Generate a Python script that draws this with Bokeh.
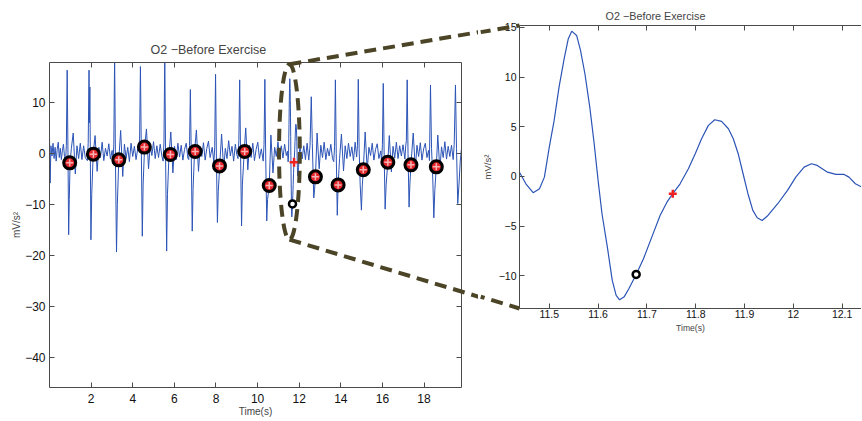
import math
from bokeh.plotting import figure
from bokeh.layouts import row
from bokeh.models import LinearAxis, FixedTicker, CustomJSTickFormatter, Range1d
from bokeh.embed import file_html
from bokeh.resources import INLINE

# ---------------- data ----------------
title_text = "O2 \u2212Before Exercise"
x_label = "Time(s)"
y_label = "mV/s\u00b2"

left_xticks = [2, 4, 6, 8, 10, 12, 14, 16, 18]
left_yticks = [-40, -30, -20, -10, 0, 10]
right_xticks = [11.5, 11.6, 11.7, 11.8, 11.9, 12, 12.1]
right_yticks = [-10, -5, 0, 5, 10, 15]

left_xlim = (0.0, 19.8)
left_ylim = (-45.8, 17.8)
right_xstart = 11.439
right_ylim = (-13.3, 15.2)

# zoomed beat
zoom_t = [11.439, 11.452, 11.467, 11.480, 11.490, 11.500, 11.510, 11.520, 11.531, 11.539,
          11.546, 11.556, 11.564, 11.573, 11.583, 11.592, 11.600, 11.608, 11.619, 11.629,
          11.637, 11.644, 11.653, 11.663, 11.678, 11.693, 11.710, 11.727, 11.741, 11.753,
          11.768, 11.785, 11.799, 11.812, 11.826, 11.839, 11.853, 11.867, 11.877, 11.887,
          11.897, 11.907, 11.917, 11.926, 11.936, 11.948, 11.968, 11.988, 12.005, 12.022,
          12.037, 12.049, 12.070, 12.087, 12.104, 12.114, 12.127, 12.141]
zoom_y = [0.43, -0.74, -1.64, -1.24, -0.07, 2.95, 5.64, 8.99, 12.0, 13.87,
          14.63, 14.2, 12.69, 10.34, 6.98, 3.29, -0.40, -3.76, -7.12, -10.47,
          -11.98, -12.42, -12.15, -11.31, -9.87, -8.29, -6.11, -3.93, -2.59, -1.74,
          -0.74, 0.77, 2.29, 3.80, 5.14, 5.71, 5.54, 4.80, 3.80, 2.29,
          0.27, -1.74, -3.42, -4.16, -4.43, -3.93, -2.75, -1.41, -0.07, 0.94,
          1.28, 1.11, 0.43, 0.20, 0.20, -0.07, -0.74, -1.08]

# full recording, before the zoomed beat
pre_t = [0.00, 0.03, 0.07, 0.12, 0.17, 0.22, 0.27, 0.32, 0.37, 0.42, 0.47, 0.52, 0.57, 0.62, 0.67, 0.72,
         0.77, 0.81, 0.85, 0.89, 0.92, 0.95, 0.99, 1.05, 1.14, 1.24, 1.32, 1.40, 1.48, 1.56, 1.64, 1.72,
         1.82, 1.86, 1.90, 1.92, 1.94, 1.99, 2.03, 2.10, 2.19, 2.29, 2.37, 2.45, 2.53, 2.61, 2.69, 2.77, 2.85, 2.93, 3.01,
         3.05, 3.09, 3.13, 3.17, 3.22, 3.26, 3.33, 3.42, 3.52, 3.60, 3.68, 3.76, 3.84, 3.92, 4.00, 4.08, 4.16, 4.24,
         4.29, 4.33, 4.37, 4.41, 4.46, 4.50, 4.57, 4.66, 4.76, 4.84, 4.92, 5.00, 5.08, 5.16, 5.24, 5.32, 5.40,
         5.46, 5.50, 5.54, 5.58, 5.63, 5.67, 5.74, 5.83, 5.93, 6.01, 6.09, 6.17, 6.25, 6.33, 6.41, 6.49, 6.57, 6.65,
         6.69, 6.73, 6.77, 6.81, 6.86, 6.90, 6.97, 7.06, 7.16, 7.24, 7.32, 7.40, 7.48, 7.56, 7.64, 7.72, 7.82,
         7.90, 7.94, 7.98, 8.02, 8.07, 8.11, 8.18, 8.27, 8.37, 8.45, 8.53, 8.61, 8.69, 8.77, 8.85, 8.93, 9.00,
         9.06, 9.10, 9.14, 9.18, 9.23, 9.27, 9.36, 9.43, 9.53, 9.61, 9.69, 9.77, 9.85, 9.93, 10.01, 10.09, 10.18,
         10.27, 10.31, 10.35, 10.39, 10.44, 10.48, 10.56, 10.64, 10.74, 10.82, 10.90, 10.98, 11.06, 11.14, 11.22, 11.30, 11.38]
pre_y = [3.4, -5.8, 1.5, -0.5, 2.0, -1.0, 1.2, -1.5, 0.8, 2.2, -0.8, 1.0, -1.2, 0.6, 1.8, -0.6,
         -1.8, 1.6, 16.3, -1.0, -15.9, -9.0, -1.8, 1.0, 4.0, -4.0, 1.5, -1.0, 2.0, -1.2, 1.5, -0.8,
         -1.4, 2.0, 16.3, 6.0, 13.0, -16.9, -8.0, -0.1, 3.5, -3.5, 1.2, -0.8, 2.2, -1.4, 1.0, -0.5, 1.9, -1.1, 0.6,
         -2.0, 1.8, 19.0, -1.5, -19.3, -10.0, -1.2, 4.5, -4.5, 1.8, -1.0, 1.2, -1.6, 2.0, -0.6, 1.4, -1.2, 0.9,
         1.0, 3.0, 17.0, 1.5, -16.2, -6.0, 1.2, 4.8, -3.0, 1.6, -0.4, 2.3, -1.0, 1.5, -0.8, 1.8, -0.5,
         -1.5, 2.2, 19.0, -1.0, -19.1, -8.0, -0.5, 4.2, -3.8, 1.4, -1.2, 2.0, -0.7, 1.6, -1.3, 0.8, 2.0, -0.9,
         -1.2, 1.5, 12.5, 0.5, -15.2, -7.0, 0.4, 4.6, -3.5, 1.3, -0.6, 2.1, -1.3, 1.0, 2.4, -0.8, 1.2,
         -1.8, 1.2, 15.5, -0.5, -13.5, -7.5, -2.4, 3.8, -3.0, 1.0, -1.0, 2.5, -0.5, 1.4, -1.5, 1.8, -0.2,
         -1.0, 2.5, 14.4, 0.5, -14.2, -6.0, 0.4, 5.0, -3.2, 1.6, -0.8, 2.0, -1.4, 0.8, 2.2, -1.0, 0.9,
         -1.5, 1.8, 14.5, -0.5, -13.2, -9.0, -6.3, 3.6, -3.8, 1.2, -0.6, 2.3, -1.1, 1.5, -0.9, 1.8, -0.4]

# full recording, after the zoomed beat
post_t = [12.22, 12.30, 12.38, 12.46,
          12.52, 12.58, 12.63, 12.70, 12.74, 12.78, 12.86, 12.96, 13.04, 13.12, 13.20, 13.28, 13.36, 13.44, 13.52, 13.60,
          13.66, 13.70, 13.74, 13.78, 13.83, 13.87, 13.94, 14.03, 14.13, 14.21, 14.29, 14.37, 14.45, 14.53, 14.61, 14.69, 14.76,
          14.80, 14.84, 14.88, 14.93, 14.99, 15.03, 15.08, 15.17, 15.27, 15.35, 15.43, 15.51, 15.59, 15.67, 15.75, 15.83, 15.92,
          15.96, 16.00, 16.04, 16.08, 16.13, 16.18, 16.26, 16.33, 16.43, 16.51, 16.59, 16.67, 16.75, 16.83, 16.91, 16.99, 17.08,
          17.12, 17.15, 17.19, 17.23, 17.28, 17.32, 17.37, 17.48, 17.58, 17.66, 17.74, 17.82, 17.90, 17.98, 18.06, 18.14, 18.22,
          18.26, 18.31, 18.36, 18.42, 18.47, 18.52, 18.59, 18.66, 18.76, 18.84, 18.92, 19.00, 19.08, 19.16, 19.24, 19.32, 19.40,
          19.45, 19.51, 19.56, 19.62, 19.68, 19.74, 19.80]
post_y = [1.5, -1.2, 2.0, -1.3,
          1.5, 11.1, 2.0, -8.7, -7.0, -4.6, 4.0, -3.0, 1.6, -0.8, 2.2, -1.2, 1.0, -0.5, 1.8, -1.0,
          -1.6, 1.4, 14.4, 0.0, -12.1, -6.2, -1.0, 3.8, -3.4, 1.5, -1.0, 2.0, -0.6, 1.3, -1.4, 2.2, -0.7,
          1.5, 14.5, 1.0, -6.0, -11.1, -6.5, -3.2, 4.2, -3.2, 1.2, -0.4, 2.0, -1.3, 0.8, 1.9, -1.0, 0.5,
          -1.6, 1.8, 13.7, 0.5, -10.9, -6.0, -1.7, 3.5, -3.6, 1.4, -0.9, 2.2, -1.0, 1.5, -0.5, 1.7, -1.1,
          1.5, 2.5, 14.4, 0.0, -10.5, -6.0, -2.2, 4.0, -3.0, 1.6, -0.6, 2.1, -1.3, 0.9, 2.0, -0.8, 0.6,
          -1.4, 13.4, 1.0, -5.0, -12.6, -7.0, -2.6, 3.6, -3.2, 1.3, -0.8, 2.3, -1.1, 1.4, -0.6, 1.6, -1.2,
          1.8, 13.4, 1.0, -9.8, -6.0, -1.5, 1.0]

# detected points (circle + plus)
detect_t = [0.97, 2.11, 3.33, 4.56, 5.81, 7.00, 8.17, 9.38, 10.56, 12.78, 13.87, 15.08, 16.26, 17.37, 18.59]
detect_y = [-1.84, -0.14, -1.25, 1.24, -0.20, 0.39, -2.43, 0.39, -6.27, -4.58, -6.15, -3.20, -1.70, -2.23, -2.62]

# the zoomed beat's two marks
plus_t = [11.753]
plus_y = [-1.74]
circ_t = [11.678]
circ_y = [-9.87]

# zoom ellipse (data units of the left panel)
ell_x = [11.53]
ell_y = [0.3]
ell_w = [1.0]
ell_h = [34.3]

# ---------------- layout constants (page pixels) ----------------
H = 420
W1, W2 = 478, 383
L_left, L_top, L_w, L_h = 49, 62, 412, 325
R_left, R_top, R_h = 39, 25, 283
R_w = W2 - R_left
R_pxs = 491.0  # pixels per second of right panel
right_xlim = (right_xstart, right_xstart + R_w / R_pxs)

FONT = "Liberation Sans"
AX = "#4a4a4a"
BLUE = "#2c54b6"
DASH_C = "#4b4426"
DASH = (12, 7)

minus_fmt = CustomJSTickFormatter(code="return (tick < 0 ? '\u2212' : '') + Math.abs(tick).toString();")


def style_axis(ax, ticks, fs, labels=True, standoff=4):
    ax.ticker = FixedTicker(ticks=ticks)
    ax.formatter = minus_fmt
    ax.major_tick_in = 5
    ax.major_tick_out = 0
    ax.minor_tick_line_color = None
    ax.axis_line_color = AX
    ax.major_tick_line_color = AX
    ax.major_label_text_font = FONT
    if labels:
        ax.major_label_text_color = "#111111"
        ax.major_label_text_font_size = fs
        ax.major_label_standoff = standoff
    else:
        ax.major_label_text_color = None
        ax.major_label_text_font_size = "1px"
        ax.major_label_standoff = 0


# ---------------- left panel ----------------
p1 = figure(width=W1, height=H, output_backend="svg", toolbar_location=None,
            x_range=Range1d(*left_xlim), y_range=Range1d(*left_ylim),
            min_border_left=L_left, min_border_right=W1 - L_left - L_w,
            min_border_top=L_top, min_border_bottom=H - L_top - L_h,
            title=title_text, x_axis_label=x_label, y_axis_label=y_label,
            frame_align=False)
p1.outline_line_color = None
p1.xgrid.visible = False
p1.ygrid.visible = False
p1.border_fill_color = "white"
p1.title.text_font = FONT
p1.title.text_font_size = "12.5px"
p1.title.text_font_style = "normal"
p1.title.align = "left"
p1.title.offset = 101
p1.title.standoff = 11

style_axis(p1.xaxis[0], left_xticks, "12px", standoff=6)
style_axis(p1.yaxis[0], left_yticks, "12px", standoff=4)
p1.xaxis[0].axis_label_text_font = FONT
p1.xaxis[0].axis_label_text_font_size = "10px"
p1.xaxis[0].axis_label_text_font_style = "normal"
p1.xaxis[0].axis_label_standoff = 0
p1.yaxis[0].axis_label_text_font = FONT
p1.yaxis[0].axis_label_text_font_size = "10px"
p1.yaxis[0].axis_label_text_font_style = "normal"
p1.yaxis[0].axis_label_standoff = 0
top1 = LinearAxis()
style_axis(top1, left_xticks, "1px", labels=False)
p1.add_layout(top1, "above")
right1 = LinearAxis()
style_axis(right1, left_yticks, "1px", labels=False)
p1.add_layout(right1, "right")

sig_t = pre_t + zoom_t + post_t
sig_y = pre_y + zoom_y + post_y
p1.line(sig_t, sig_y, line_color=BLUE, line_width=1)
p1.scatter(detect_t, detect_y, marker="circle", size=12, line_width=3,
           line_color="black", fill_color="#e3262b")
p1.scatter(detect_t, detect_y, marker="cross", size=7, line_width=1.5, line_color="#f8b4b4")
p1.scatter(circ_t, circ_y, marker="circle", size=7, line_width=2.5, line_color="black", fill_color="white")
p1.scatter(plus_t, plus_y, marker="cross", size=9, line_width=2.5, line_color="#ee2222")

# ---------------- right panel ----------------
p2 = figure(width=W2, height=H, output_backend="svg", toolbar_location=None,
            x_range=Range1d(*right_xlim), y_range=Range1d(*right_ylim),
            min_border_left=R_left, min_border_right=0,
            min_border_top=R_top, min_border_bottom=H - R_top - R_h,
            title=title_text, x_axis_label=x_label, y_axis_label=y_label,
            frame_align=False)
p2.outline_line_color = None
p2.xgrid.visible = False
p2.ygrid.visible = False
p2.border_fill_color = "white"
p2.title.text_font = FONT
p2.title.text_font_size = "10.8px"
p2.title.text_font_style = "normal"
p2.title.align = "left"
p2.title.offset = 86
p2.title.standoff = 8

style_axis(p2.xaxis[0], right_xticks, "10.5px", standoff=1)
style_axis(p2.yaxis[0], right_yticks, "10.5px", standoff=3)
p2.xaxis[0].axis_label_text_font = FONT
p2.xaxis[0].axis_label_text_font_size = "8.6px"
p2.xaxis[0].axis_label_text_font_style = "normal"
p2.xaxis[0].axis_label_standoff = 2
p2.yaxis[0].axis_label_text_font = FONT
p2.yaxis[0].axis_label_text_font_size = "9.5px"
p2.yaxis[0].axis_label_text_font_style = "normal"
p2.yaxis[0].axis_label_standoff = 3
top2 = LinearAxis()
style_axis(top2, right_xticks, "1px", labels=False)
p2.add_layout(top2, "above")

p2.line(zoom_t, zoom_y, line_color=BLUE, line_width=1.2)
p2.scatter(circ_t, circ_y, marker="circle", size=7, line_width=2.5, line_color="black", fill_color="white")
p2.scatter(plus_t, plus_y, marker="cross", size=8, line_width=2.5, line_color="#ee2222")

# ---------------- zoom ellipse + connectors (split across the two canvases) ----------------
sx1 = (left_xlim[1] - left_xlim[0]) / L_w
sy1 = (left_ylim[1] - left_ylim[0]) / L_h
sx2 = (right_xlim[1] - right_xlim[0]) / R_w
sy2 = (right_ylim[1] - right_ylim[0]) / R_h
o2x = W1  # page x of the right canvas


def p1_to_page(x, y):
    return L_left + (x - left_xlim[0]) / sx1, L_top + (left_ylim[1] - y) / sy1


def page_to_p1(px, py):
    return left_xlim[0] + (px - L_left) * sx1, left_ylim[1] - (py - L_top) * sy1


def p2_to_page(x, y):
    return o2x + R_left + (x - right_xlim[0]) / sx2, R_top + (right_ylim[1] - y) / sy2


def page_to_p2(px, py):
    return right_xlim[0] + (px - o2x - R_left) * sx2, right_ylim[1] - (py - R_top) * sy2


dash_str = "%d %d" % DASH
p1.ellipse(x=ell_x, y=ell_y, width=ell_w, height=ell_h, fill_color=None,
           line_color=DASH_C, line_width=4, line_dash=dash_str, level="overlay")

for y_start, y_end in ((ell_y[0] + ell_h[0] / 2, right_ylim[1]),
                       (ell_y[0] - ell_h[0] / 2, right_ylim[0])):
    ax_, ay_ = p1_to_page(ell_x[0], y_start)
    bx_, by_ = p2_to_page(right_xlim[0], y_end)
    seam = o2x
    t = (seam - ax_) / (bx_ - ax_)
    sy_ = ay_ + t * (by_ - ay_)
    t_ext = (seam + 3 - ax_) / (bx_ - ax_)
    ex1 = page_to_p1(seam + 3, ay_ + t_ext * (by_ - ay_))
    p1.segment(x0=[ell_x[0]], y0=[y_start], x1=[ex1[0]], y1=[ex1[1]],
               line_color=DASH_C, line_width=4, line_dash=dash_str, level="overlay")
    seg_len = math.hypot(seam - ax_, sy_ - ay_)
    s2 = page_to_p2(seam, sy_)
    p2.segment(x0=[s2[0]], y0=[s2[1]], x1=[right_xlim[0]], y1=[y_end],
               line_color=DASH_C, line_width=4, line_dash=dash_str,
               line_dash_offset=int(round(seg_len % sum(DASH))), level="overlay")

layout = row(p1, p2)

open("out.html", "w").write(file_html(layout, INLINE))
